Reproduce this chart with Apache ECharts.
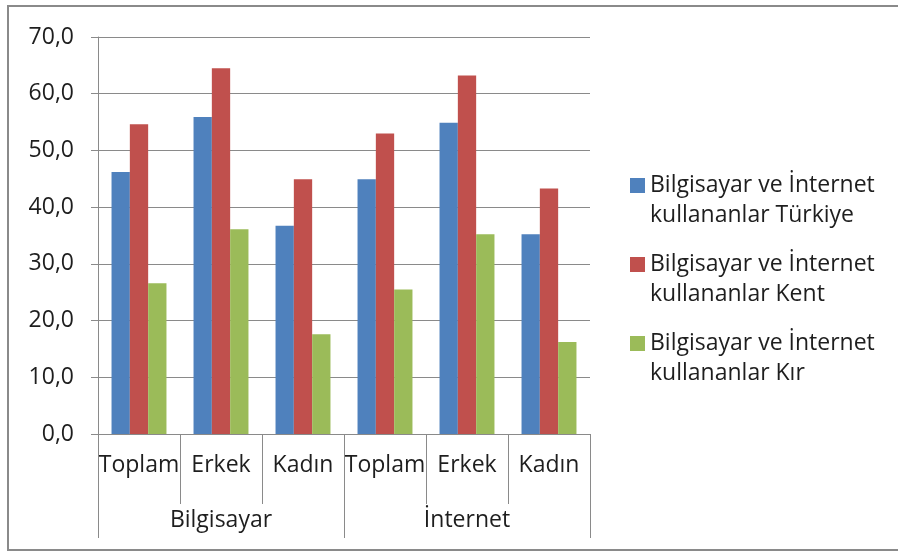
<!DOCTYPE html>
<html>
<head>
<meta charset="utf-8">
<script src="https://cdn.jsdelivr.net/npm/echarts@6/dist/echarts.min.js"></script>
<style>
html,body{margin:0;padding:0;background:#fff;}
#chart{width:898px;height:552px;}
</style>
</head>
<body>
<div id="chart"></div>
<script>
var categories = ['Toplam', 'Erkek', 'Kadın', 'Toplam', 'Erkek', 'Kadın'];
var groups = ['Bilgisayar', 'İnternet'];
var seriesNames = [
  'Bilgisayar ve İnternet\nkullananlar Türkiye',
  'Bilgisayar ve İnternet\nkullananlar Kent',
  'Bilgisayar ve İnternet\nkullananlar Kır'
];
var turkiye = [46.2, 55.9, 36.7, 44.9, 54.9, 35.2];
var kent = [54.6, 64.5, 44.9, 53.0, 63.2, 43.3];
var kir = [26.6, 36.1, 17.6, 25.5, 35.2, 16.2];
var colors = ['#4F81BD', '#C0504D', '#9BBB59'];

var FONT = 'Open Sans';
var TEXT = '#1e1e1e';
var chart = echarts.init(document.getElementById('chart'), null, {renderer: 'canvas'});
var legendIcon = 'path://M0,0 L15,0 L15,15 L0,15 Z M0,44 L0.01,44 L0.01,44.01 Z';

var option = {
  animation: false,
  backgroundColor: '#ffffff',
  graphic: [{
    type: 'rect',
    shape: {x: 8, y: 6, width: 1000, height: 544},
    style: {fill: 'none', stroke: '#8a8a8a', lineWidth: 2},
    silent: true
  }],
  grid: {left: 98, right: 308, top: 37, bottom: 118, containLabel: false},
  legend: {
    orient: 'vertical',
    left: 630,
    top: 170,
    padding: 0,
    itemGap: 19,
    itemWidth: 15,
    itemHeight: 44,
    icon: legendIcon,
    textStyle: {fontFamily: FONT, fontSize: 23, color: TEXT, lineHeight: 30, padding: [0, 0, 0, 0]},
    data: seriesNames
  },
  xAxis: [{
    type: 'category',
    data: categories,
    position: 'bottom',
    axisLine: {show: true, lineStyle: {color: '#8a8a8a', width: 1}},
    axisTick: {show: true, length: 70, interval: 0, lineStyle: {color: '#8a8a8a'}},
    axisLabel: {interval: 0, margin: 20, fontFamily: FONT, fontSize: 23, color: TEXT},
    splitLine: {show: false}
  }, {
    type: 'category',
    data: groups,
    position: 'bottom',
    gridIndex: 0,
    axisLine: {show: false},
    axisTick: {show: true, length: 104, interval: 0, lineStyle: {color: '#8a8a8a'}},
    axisLabel: {interval: 0, margin: 75, fontFamily: FONT, fontSize: 23, color: TEXT},
    splitLine: {show: false}
  }],
  yAxis: {
    type: 'value',
    min: 0,
    max: 70,
    interval: 10,
    axisLine: {show: true, lineStyle: {color: '#8a8a8a', width: 1}},
    axisTick: {show: true, length: 7, lineStyle: {color: '#8a8a8a'}},
    axisLabel: {
      margin: 24,
      fontFamily: FONT,
      fontSize: 23,
      color: TEXT,
      formatter: function (v) { return v.toFixed(1).replace('.', ','); }
    },
    splitLine: {show: true, lineStyle: {color: '#8a8a8a', width: 1}}
  },
  series: [
    {name: seriesNames[0], type: 'bar', data: turkiye, itemStyle: {color: colors[0]}, barGap: '0%', barCategoryGap: '33%'},
    {name: seriesNames[1], type: 'bar', data: kent, itemStyle: {color: colors[1]}, barGap: '0%', barCategoryGap: '33%'},
    {name: seriesNames[2], type: 'bar', data: kir, itemStyle: {color: colors[2]}, barGap: '0%', barCategoryGap: '33%'}
  ]
};
chart.setOption(option);
</script>
</body>
</html>
